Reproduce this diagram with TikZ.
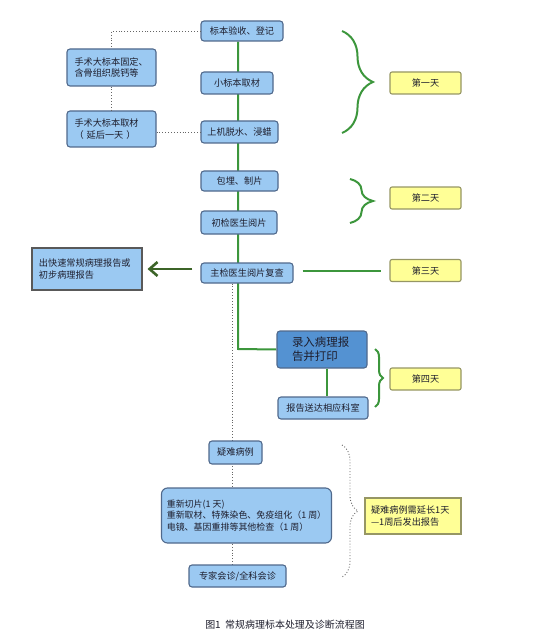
\documentclass[tikz,border=0pt]{standalone}
\usepackage{fontspec}
\setmainfont{Noto Sans CJK SC}
\usetikzlibrary{decorations.pathreplacing,arrows.meta,backgrounds}
\definecolor{lblue}{RGB}{155,201,242}
\definecolor{bborder}{RGB}{80,105,140}
\definecolor{dblue}{RGB}{84,146,210}
\definecolor{yfill}{RGB}{255,255,150}
\definecolor{yborder}{RGB}{150,150,100}
\definecolor{gline}{RGB}{60,150,60}
\definecolor{garrow}{RGB}{60,100,40}
\definecolor{txt}{RGB}{30,30,45}
\tikzset{
  bbox/.style={draw=bborder, line width=1.1bp, fill=lblue, rounded corners=3bp, inner sep=0pt,
    font=\fontsize{9.2}{11.5}\selectfont, text=txt},
  ybox/.style={draw=yborder, line width=1.1bp, fill=yfill, rounded corners=2bp, inner sep=0pt,
    minimum width=71bp, minimum height=22bp, font=\fontsize{9.2}{11.5}\selectfont, text=txt},
  gl/.style={draw=gline, line width=2bp},
  dl/.style={draw=gray!80!black, line width=0.9bp, dotted},
  gbrace/.style={draw=gline, line width=2bp, decorate},
}
\begin{document}
\begin{tikzpicture}[x=1bp,y=-1bp]
\useasboundingbox (0,0) rectangle (547,641);
% main column
\node[bbox, minimum width=82bp, minimum height=20bp] (n1) at (242,31) {标本验收、登记};
\node[bbox, minimum width=89bp, minimum height=37bp, text width=74bp, align=left] (b1) at (111.5,67.5) {手术大标本固定、\\含骨组织脱钙等};
\node[bbox, minimum width=72bp, minimum height=22bp] (n2) at (237,83) {小标本取材};
\node[bbox, minimum width=89bp, minimum height=36bp, text width=74bp, align=left] (b2) at (111.5,129) {手术大标本取材\\（ 延后一天 ）};
\node[bbox, minimum width=77bp, minimum height=22bp] (n3) at (239.5,132) {上机脱水、浸蜡};
\node[bbox, minimum width=77bp, minimum height=20bp] (n4) at (239.5,181) {包埋、制片};
\node[bbox, minimum width=76bp, minimum height=23bp] (n5) at (239,222.5) {初检医生阅片};
\node[bbox, minimum width=92bp, minimum height=20bp] (zj) at (247,273) {主检医生阅片复查};
\node[bbox, rounded corners=0pt, draw=gray!70!black, minimum width=110bp, minimum height=42bp, text width=96bp, align=left] (rep) at (87,269) {出快速常规病理报告或\\初步病理报告};
\node[bbox, fill=dblue, minimum width=90bp, minimum height=37bp, text width=60bp, align=left, font=\fontsize{11.5}{14}\selectfont] (lr) at (322,349.5) {录入病理报\\告并打印};
\node[bbox, minimum width=90bp, minimum height=22bp] (sd) at (323,408) {报告送达相应科室};
\node[bbox, minimum width=53bp, minimum height=23bp] (yn) at (235.5,452.5) {疑难病例};
\node[bbox, rounded corners=6bp, minimum width=170bp, minimum height=55bp, align=left, font=\fontsize{9}{11.5}\selectfont] (cq) at (246.5,515.5) {重新切片(1 天)\\重新取材、特殊染色、免疫组化（1 周）\\电镜、基因重排等其他检查（1 周）};
\node[bbox, minimum width=97bp, minimum height=22bp] (hz) at (237.5,576) {专家会诊/全科会诊};
% day labels
\node[ybox] (d1) at (425.5,83) {第一天};
\node[ybox] (d2) at (425.5,198) {第二天};
\node[ybox] (d3) at (425.5,270.5) {第三天};
\node[ybox] (d4) at (425.5,379) {第四天};
\node[ybox, rounded corners=0pt, minimum width=96bp, minimum height=36bp, text width=84bp, align=left] (dn) at (413,516) {疑难病例需延长1天\\---1周后发出报告};
\node[font=\fontsize{10}{12}\selectfont, text=txt] (cap) at (285,625) {图1\ \ 常规病理标本处理及诊断流程图};
% connectors (behind nodes)
\coordinate (gx) at (238,0);
\coordinate (dx) at (232,0);
\coordinate (corner) at (238,349);
\coordinate (sx) at (327,0);
\begin{scope}[on background layer]
\draw[gl] (n1.south -| gx) -- (corner) -- (lr.west);
\draw[dl] (zj.south -| dx) -- (hz.north -| dx);
\end{scope}
\draw[gl] (lr.south -| sx) -- (sd.north -| sx);
\draw[dl] (n1.west) -| (b1.north);
\draw[dl] (b1.south) -- (b2.north);
\draw[dl] (b2.east |- n3.west) -- (n3.west);
\draw[gl] ([xshift=9bp]zj.east |- d3.west) -- ([xshift=-8bp]d3.west);
\draw[draw=garrow, line width=2.6bp, -{Straight Barb[length=8bp,width=14bp]}] ([xshift=-8bp]zj.west |- rep.east) -- ([xshift=5bp]rep.east);
% braces
\draw[gbrace, decoration={brace, amplitude=31bp}] (342,31) -- (342,133);
\draw[gbrace, decoration={brace, amplitude=23bp}] (350,179) -- (350,223);
\draw[gbrace, decoration={brace, amplitude=8bp}] (375,349) -- (375,407);
\draw[dl, decorate, decoration={brace, amplitude=16bp}] (342,445) -- (342,577);
\end{tikzpicture}
\end{document}
